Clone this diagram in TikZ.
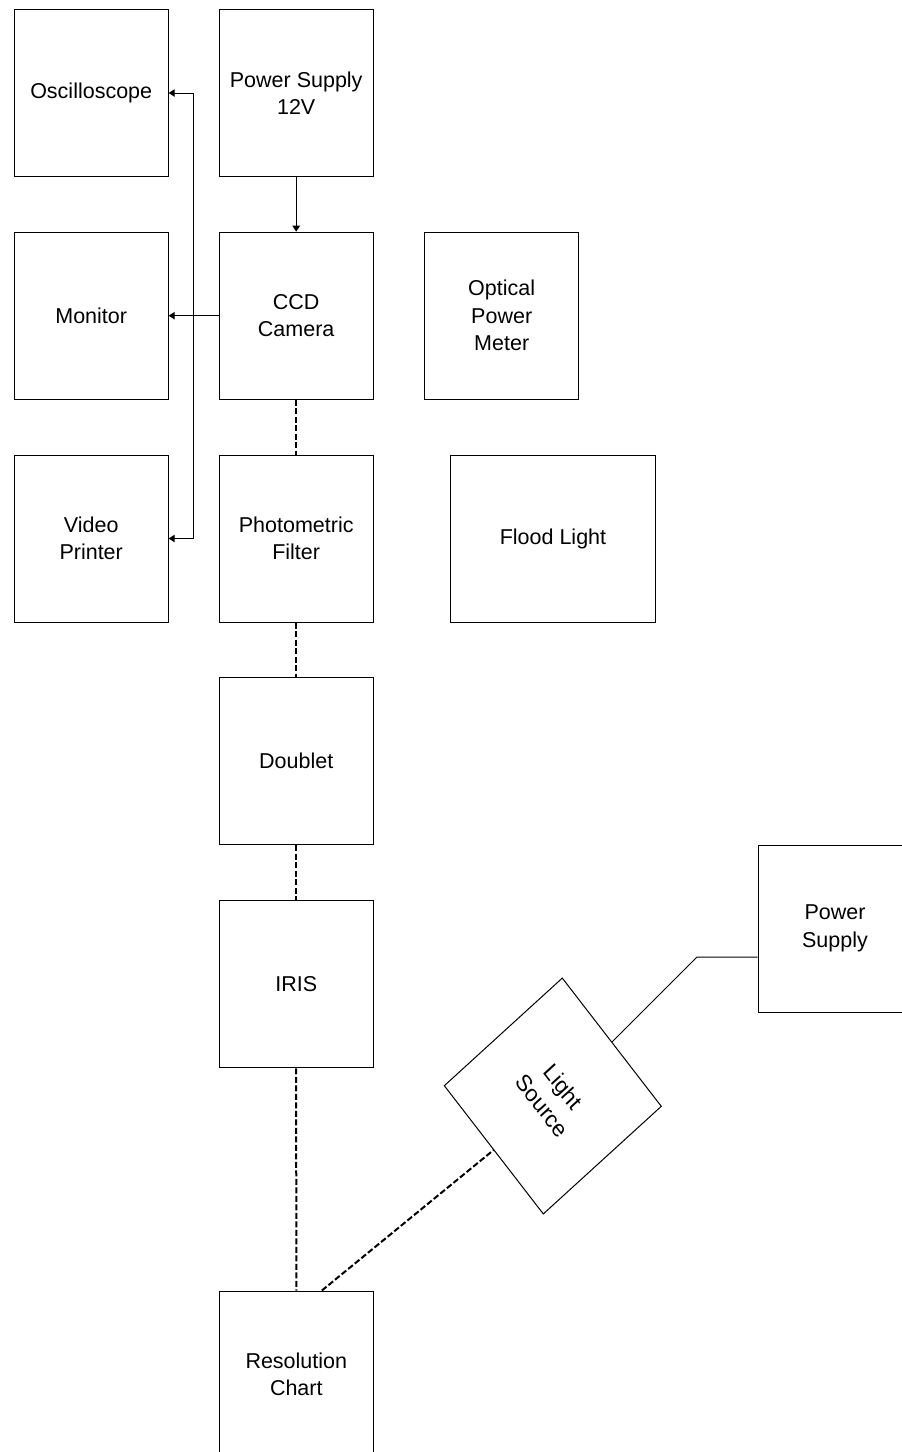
\documentclass[tikz,border=0pt]{standalone}
\usepackage{fontspec}
\setmainfont{Liberation Sans}
\usetikzlibrary{arrows.meta,calc}

\begin{document}
\begin{tikzpicture}[x=1pt,y=-1pt,
	blk/.style={draw, line width=1pt, minimum width=154pt, minimum height=167pt,
		inner sep=0pt, align=center, font=\fontsize{21.5}{27.5}\selectfont},
	feed/.style={line width=1pt, -{Triangle[length=6pt,width=7.5pt]}},
	optic/.style={line width=2pt, dash pattern=on 6pt off 2.5pt}]
\useasboundingbox (0,0) rectangle (902,1452);
\clip (0,0) rectangle (902,1452);
\path (91.2,93) node[blk] (osc) {Oscilloscope}
		(296.2,93) node[blk] (ps12) {Power Supply\\12V}
		(91.2,315.7) node[blk] (mon) {Monitor}
		(296.2,315.7) node[blk] (ccd) {CCD\\Camera}
		(501.7,315.5) node[blk] (opm) {Optical\\Power\\Meter}
		(91.2,538.5) node[blk] (vp) {Video\\Printer}
		(296.2,538.5) node[blk] (pf) {Photometric\\Filter}
		(553,538.8) node[blk, minimum width=205.7pt] (fl) {Flood Light}
		(296.2,761.3) node[blk] (dbl) {Doublet}
		(296.2,984.4) node[blk] (iris) {IRIS}
		(835,928.5) node[blk] (ps) {Power\\Supply}
		(296.3,1374.5) node[blk] (res) {Resolution\\Chart}
		(552.8,1096) node[blk, minimum height=154pt, yscale=1.087, rotate=-50] (ls) {Light\\Source}
		;
\coordinate (tap) at (193.3,315.7);
\coordinate (psbend) at (697,957);

\draw[feed]	(node cs:name=ps12, anchor=south) -- (node cs:name=ccd, anchor=north);
\draw[feed]	(node cs:name=ccd, anchor=west) -- (node cs:name=mon, anchor=east);
\draw[feed]	(tap) |- (node cs:name=osc, anchor=east);
\draw[feed]	(tap) |- (node cs:name=vp, anchor=east);
\draw[optic]	(node cs:name=ccd, anchor=south) -- (node cs:name=pf, anchor=north);
\draw[optic]	(node cs:name=pf, anchor=south) -- (node cs:name=dbl, anchor=north);
\draw[optic]	(node cs:name=dbl, anchor=south) -- (node cs:name=iris, anchor=north);
\draw[optic]	(node cs:name=iris, anchor=south) -- (node cs:name=res, anchor=north);
\draw[optic]	($(res.north)!0.33!(res.north east)$) -- (node cs:name=ls, anchor=south);
\draw[line width=1pt]	(node cs:name=ls, anchor=north) -- (psbend) -- (psbend -| ps.west);
\end{tikzpicture}
\end{document}
